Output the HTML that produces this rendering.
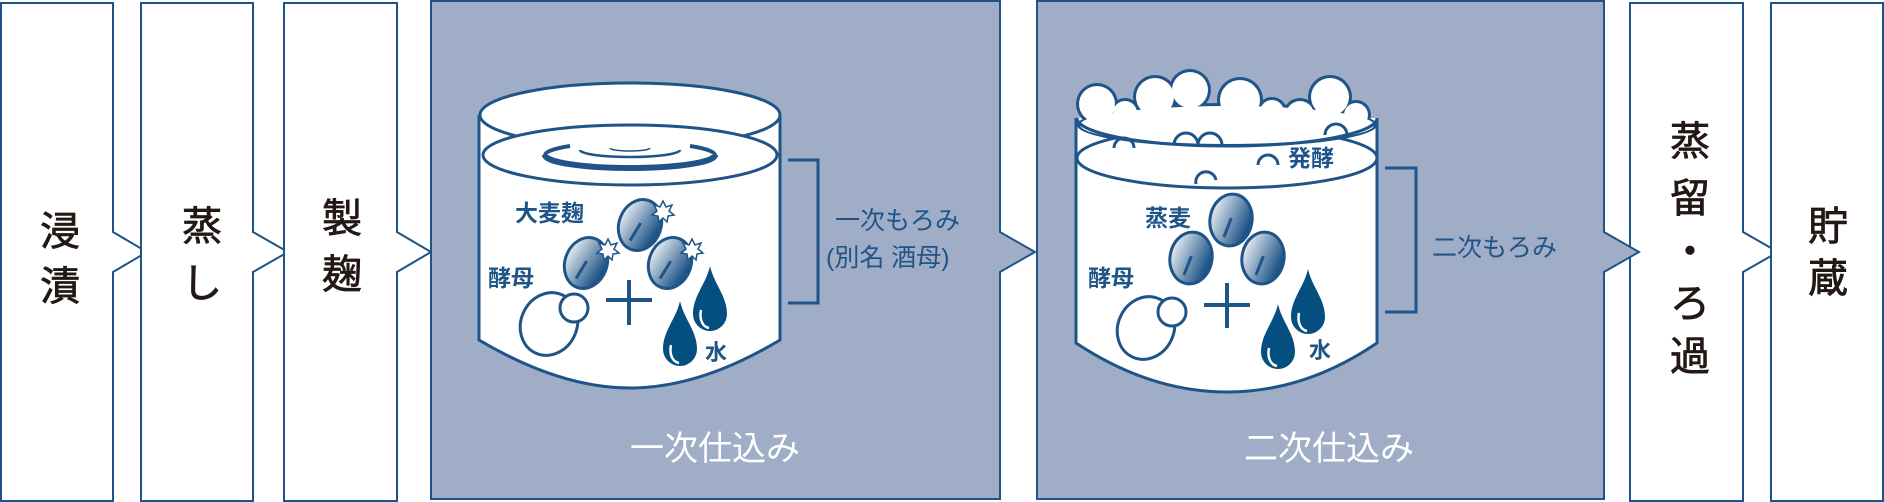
<!DOCTYPE html>
<html><head><meta charset="utf-8"><style>
html,body{margin:0;padding:0;background:#fff;}
svg{display:block}
text{font-family:"Liberation Sans","Noto Sans CJK JP",sans-serif;}
</style></head><body>
<svg width="1884" height="502" viewBox="0 0 1884 502" xmlns="http://www.w3.org/2000/svg">
<defs>
<linearGradient id="g" x1="0" y1="0" x2="1" y2="0.3">
<stop offset="0" stop-color="#ffffff"/><stop offset="1" stop-color="#1f5488"/>
</linearGradient>
<g id="drop">
<path d="M0,-34 C4,-16 17,-4 17,14 A17,17 0 0 1 -17,14 C-17,-4 -4,-16 0,-34 Z" fill="#054f80"/>
<path d="M-9,10 C-11,20 -7,27 -1,28" stroke="#fff" stroke-width="2.5" fill="none"/>
</g>
<g id="grain">
<ellipse rx="21" ry="26" fill="url(#g)" stroke="#1f5488" stroke-width="3"/>
<path d="M-4,18 L0,-2" stroke="#1f5488" stroke-width="3" fill="none"/>
</g>
<g id="star">
<polygon points="0,-11 3,-5 9,-7 6,-1 11,3 5,4 4,10 0,6 -4,10 -5,4 -11,3 -6,-1 -9,-7 -3,-5" fill="#fff" stroke="#1f5488" stroke-width="1.5"/>
</g>
</defs>
<g fill="#fff" stroke="#1f5488" stroke-width="2">
<path d="M1,3 H113 V232 L147,252 L113,272 V501 H1 Z"/>
<path d="M141,3 H253 V232 L288,252 L253,272 V501 H141 Z"/>
<path d="M284,3 H397 V232 L431,252 L397,272 V501 H284 Z"/>
<path d="M1630,3 H1743 V232 L1778,252 L1743,272 V501 H1630 Z"/>
<path d="M1771,3 H1883 V501 H1771 Z"/>
</g>
<g fill="#a0adc7" stroke="#1f5488" stroke-width="2">
<path d="M431,1 H1000 V232 L1035,252 L1000,272 V499 H431 Z"/>
<path d="M1037,1 H1604 V232 L1639,252 L1604,272 V499 H1037 Z"/>
</g>
<g fill="#231815" font-size="40" text-anchor="middle" stroke="#231815" stroke-width="0.8">
<text x="60" y="245">浸</text><text x="60" y="300">漬</text>
<text x="202" y="240">蒸</text><text x="202" y="297">し</text>
<text x="342" y="232">製</text><text x="342" y="288">麹</text>
<text x="1690" y="155">蒸</text><text x="1690" y="212">留</text><text x="1690" y="265">・</text><text x="1690" y="317">ろ</text><text x="1690" y="370">過</text>
<text x="1828" y="240">貯</text><text x="1828" y="292">蔵</text>
</g>
<g fill="#fff" font-size="34" text-anchor="middle">
<text x="715" y="460">一次仕込み</text>
<text x="1329" y="460">二次仕込み</text>
</g>
<!-- tank 1 -->
<path d="M479,115 V340 Q560,388 630,388 Q700,388 780,340 V115" fill="#fff" stroke="#1f5488" stroke-width="3"/>
<ellipse cx="630" cy="115" rx="150" ry="32" fill="#fff" stroke="#1f5488" stroke-width="3"/>
<ellipse cx="630" cy="155" rx="147" ry="30" fill="#fff" stroke="#1f5488" stroke-width="3"/>
<path d="M545,155 A85,13 0 0 0 715,155" fill="none" stroke="#1f5488" stroke-width="6"/>
<path d="M545,155 A85,13 0 0 1 570,146" fill="none" stroke="#1f5488" stroke-width="4"/>
<path d="M690,146 A85,13 0 0 1 715,155" fill="none" stroke="#1f5488" stroke-width="4"/>
<path d="M580,150 A50,7 0 0 0 680,150" fill="none" stroke="#1f5488" stroke-width="2.5"/>
<path d="M610,148 A20,3 0 0 0 650,148" fill="none" stroke="#1f5488" stroke-width="1.5"/>
<path d="M788,160 H818 V303 H788" fill="none" stroke="#1f5488" stroke-width="3"/>
<g fill="#1f5488" font-size="25">
<text x="835" y="229">一次もろみ</text>
<text x="826" y="266">(別名 酒母)</text>
<g font-weight="bold">
<text x="515" y="221" font-size="23">大麦麹</text>
<text x="488" y="286" font-size="23">酵母</text>
<text x="705" y="360" font-size="22">水</text>
</g>
</g>
<use href="#grain" transform="translate(640,225) rotate(20)"/>
<use href="#grain" transform="translate(586,263) rotate(20)"/>
<use href="#grain" transform="translate(670,263) rotate(20)"/>
<use href="#star" transform="translate(663,212)"/>
<use href="#star" transform="translate(608,250)"/>
<use href="#star" transform="translate(692,250)"/>
<ellipse cx="549" cy="324" rx="28" ry="32" transform="rotate(25 549 324)" fill="#fff" stroke="#1f5488" stroke-width="3"/>
<circle cx="574" cy="308" r="14" fill="#fff" stroke="#1f5488" stroke-width="3"/>
<path d="M629,280 V325 M606,300 H652" stroke="#1f5488" stroke-width="4"/>
<use href="#drop" transform="translate(710,300)"/>
<use href="#drop" transform="translate(680,335)"/>
<!-- tank 2 -->
<path d="M1076,118 V343 Q1150,392 1227,392 Q1305,392 1377,343 V118" fill="#fff" stroke="#1f5488" stroke-width="3"/>
<ellipse cx="1227" cy="158" rx="150" ry="30" fill="#fff" stroke="#1f5488" stroke-width="3"/>
<g fill="#1f5488">
<circle cx="1097" cy="104" r="21"/><circle cx="1125" cy="113" r="15"/>
<circle cx="1155" cy="97" r="22"/><circle cx="1190" cy="90" r="21"/>
<circle cx="1240" cy="100" r="23"/><circle cx="1272" cy="112" r="15"/>
<circle cx="1300" cy="115" r="17"/><circle cx="1330" cy="97" r="22"/><circle cx="1356" cy="115" r="15"/>
<ellipse cx="1227" cy="125" rx="150" ry="22"/>
</g>
<g fill="#fff">
<circle cx="1097" cy="104" r="18"/><circle cx="1125" cy="113" r="12"/>
<circle cx="1155" cy="97" r="19"/><circle cx="1190" cy="90" r="18"/>
<circle cx="1240" cy="100" r="20"/><circle cx="1272" cy="112" r="12"/>
<circle cx="1300" cy="115" r="14"/><circle cx="1330" cy="97" r="19"/><circle cx="1356" cy="115" r="12"/>
<ellipse cx="1227" cy="125" rx="147" ry="19"/>
</g>
<path d="M1077,118 A150,28 0 0 0 1377,118" fill="none" stroke="#1f5488" stroke-width="3"/>
<g fill="none" stroke="#1f5488" stroke-width="3">
<path d="M1114,148 a10,10 0 0 1 20,0"/><path d="M1174,145 a12,12 0 0 1 24,0 a12,12 0 0 1 24,0"/>
<path d="M1258,165 a10,10 0 0 1 20,0"/><path d="M1196,184 a10,10 0 0 1 20,-4"/>
<path d="M1325,135 a11,11 0 0 1 22,0"/>
</g>
<path d="M1385,168 H1416 V312 H1385" fill="none" stroke="#1f5488" stroke-width="3"/>
<g fill="#1f5488" font-size="25">
<text x="1432" y="256">二次もろみ</text>
<g font-weight="bold">
<text x="1288" y="166" font-size="23">発酵</text>
<text x="1145" y="226" font-size="23">蒸麦</text>
<text x="1088" y="286" font-size="23">酵母</text>
<text x="1309" y="358" font-size="22">水</text>
</g>
</g>
<use href="#grain" transform="translate(1231,220) rotate(10)"/>
<use href="#grain" transform="translate(1191,258) rotate(10)"/>
<use href="#grain" transform="translate(1263,258) rotate(10)"/>
<ellipse cx="1146" cy="328" rx="28" ry="32" transform="rotate(25 1146 328)" fill="#fff" stroke="#1f5488" stroke-width="3"/>
<circle cx="1172" cy="312" r="14" fill="#fff" stroke="#1f5488" stroke-width="3"/>
<path d="M1227,283 V328 M1204,305 H1250" stroke="#1f5488" stroke-width="4"/>
<use href="#drop" transform="translate(1308,303)"/>
<use href="#drop" transform="translate(1278,338)"/>
</svg>
</body></html>
